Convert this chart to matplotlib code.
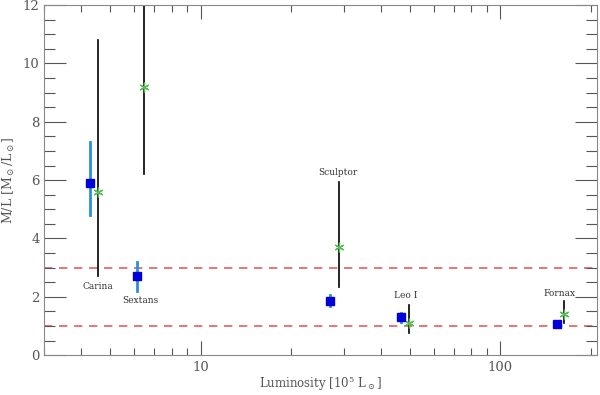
import matplotlib.pyplot as plt
from matplotlib.ticker import MultipleLocator, LogLocator, NullFormatter, FixedLocator

# blue squares: dynamical M/L with errors
lum_sq = [4.27, 6.12, 27.1, 46.7, 154.0]
ml_sq = [5.9, 2.7, 1.85, 1.3, 1.05]
ml_sq_lo = [4.8, 2.2, 1.68, 1.15, 1.0]
ml_sq_hi = [7.3, 3.2, 2.05, 1.45, 1.1]

# green stars: other estimates with range
lum_st = [4.54, 6.5, 28.9, 49.6, 163.0]
ml_st = [5.6, 9.2, 3.7, 1.1, 1.4]
ml_st_lo = [2.7, 6.2, 2.33, 0.75, 1.1]
ml_st_hi = [10.8, 13.0, 5.95, 1.72, 1.84]

names = ['Carina', 'Sextans', 'Sculptor', 'Leo I', 'Fornax']
name_x = [4.55, 6.3, 28.6, 48.5, 158.0]
name_y = [2.35, 1.88, 6.25, 2.05, 2.1]

ref_lines = [3.0, 1.0]

grey = '#555555'
plt.rcParams['font.family'] = ['DejaVu Serif']
plt.rcParams['mathtext.fontset'] = 'dejavuserif'

fig = plt.figure(figsize=(6, 3.95), dpi=100)
ax = fig.add_axes([0.073, 0.101, 0.922, 0.886])
ax.set_xscale('log')

for y in ref_lines:
    ax.axhline(y, color='#e06060', ls=(0, (5, 4)), lw=1.2, zorder=1)

for x, lo, hi in zip(lum_st, ml_st_lo, ml_st_hi):
    ax.plot([x, x], [lo, hi], color='black', lw=1.2, zorder=2)
ax.plot(lum_st, ml_st, ls='none', marker=(6, 2, 0), ms=7, mew=0.9,
        color='#55bb55', zorder=3)

for x, lo, hi in zip(lum_sq, ml_sq_lo, ml_sq_hi):
    ax.plot([x, x], [lo, hi], color='#2a90d8', lw=2, zorder=2)
ax.plot(lum_sq, ml_sq, ls='none', marker='s', ms=6, color='#0000dd', zorder=4)

for n, x, y in zip(names, name_x, name_y):
    ax.text(x, y, n, ha='center', va='center', fontsize=6.5, color='#333333')

ax.set_xlim(3.0, 210)
ax.set_ylim(0, 12)
ax.yaxis.set_major_locator(MultipleLocator(2))
ax.yaxis.set_minor_locator(MultipleLocator(0.5))
ax.xaxis.set_major_locator(FixedLocator([10, 100]))
ax.xaxis.set_minor_locator(LogLocator(base=10, subs=range(2, 10)))
ax.xaxis.set_minor_formatter(NullFormatter())
ax.set_xticklabels(['10', '100'])

ax.tick_params(axis='both', which='both', direction='in', top=True, right=True,
               colors=grey, labelcolor=grey, labelsize=9.5, width=0.8)
ax.tick_params(axis='y', which='major', length=16, pad=3)
ax.tick_params(axis='y', which='minor', length=8)
ax.tick_params(axis='x', which='major', length=10, pad=4)
ax.tick_params(axis='x', which='minor', length=5)
for s in ax.spines.values():
    s.set_color('#888888')

ax.set_xlabel(r'Luminosity [10$^5$ L$_\odot$]', color=grey, fontsize=8.5, labelpad=0)
ax.set_ylabel(r'M/L [M$_\odot$/L$_\odot$]', color=grey, fontsize=9, labelpad=4)

fig.savefig('out.png', dpi=100)
